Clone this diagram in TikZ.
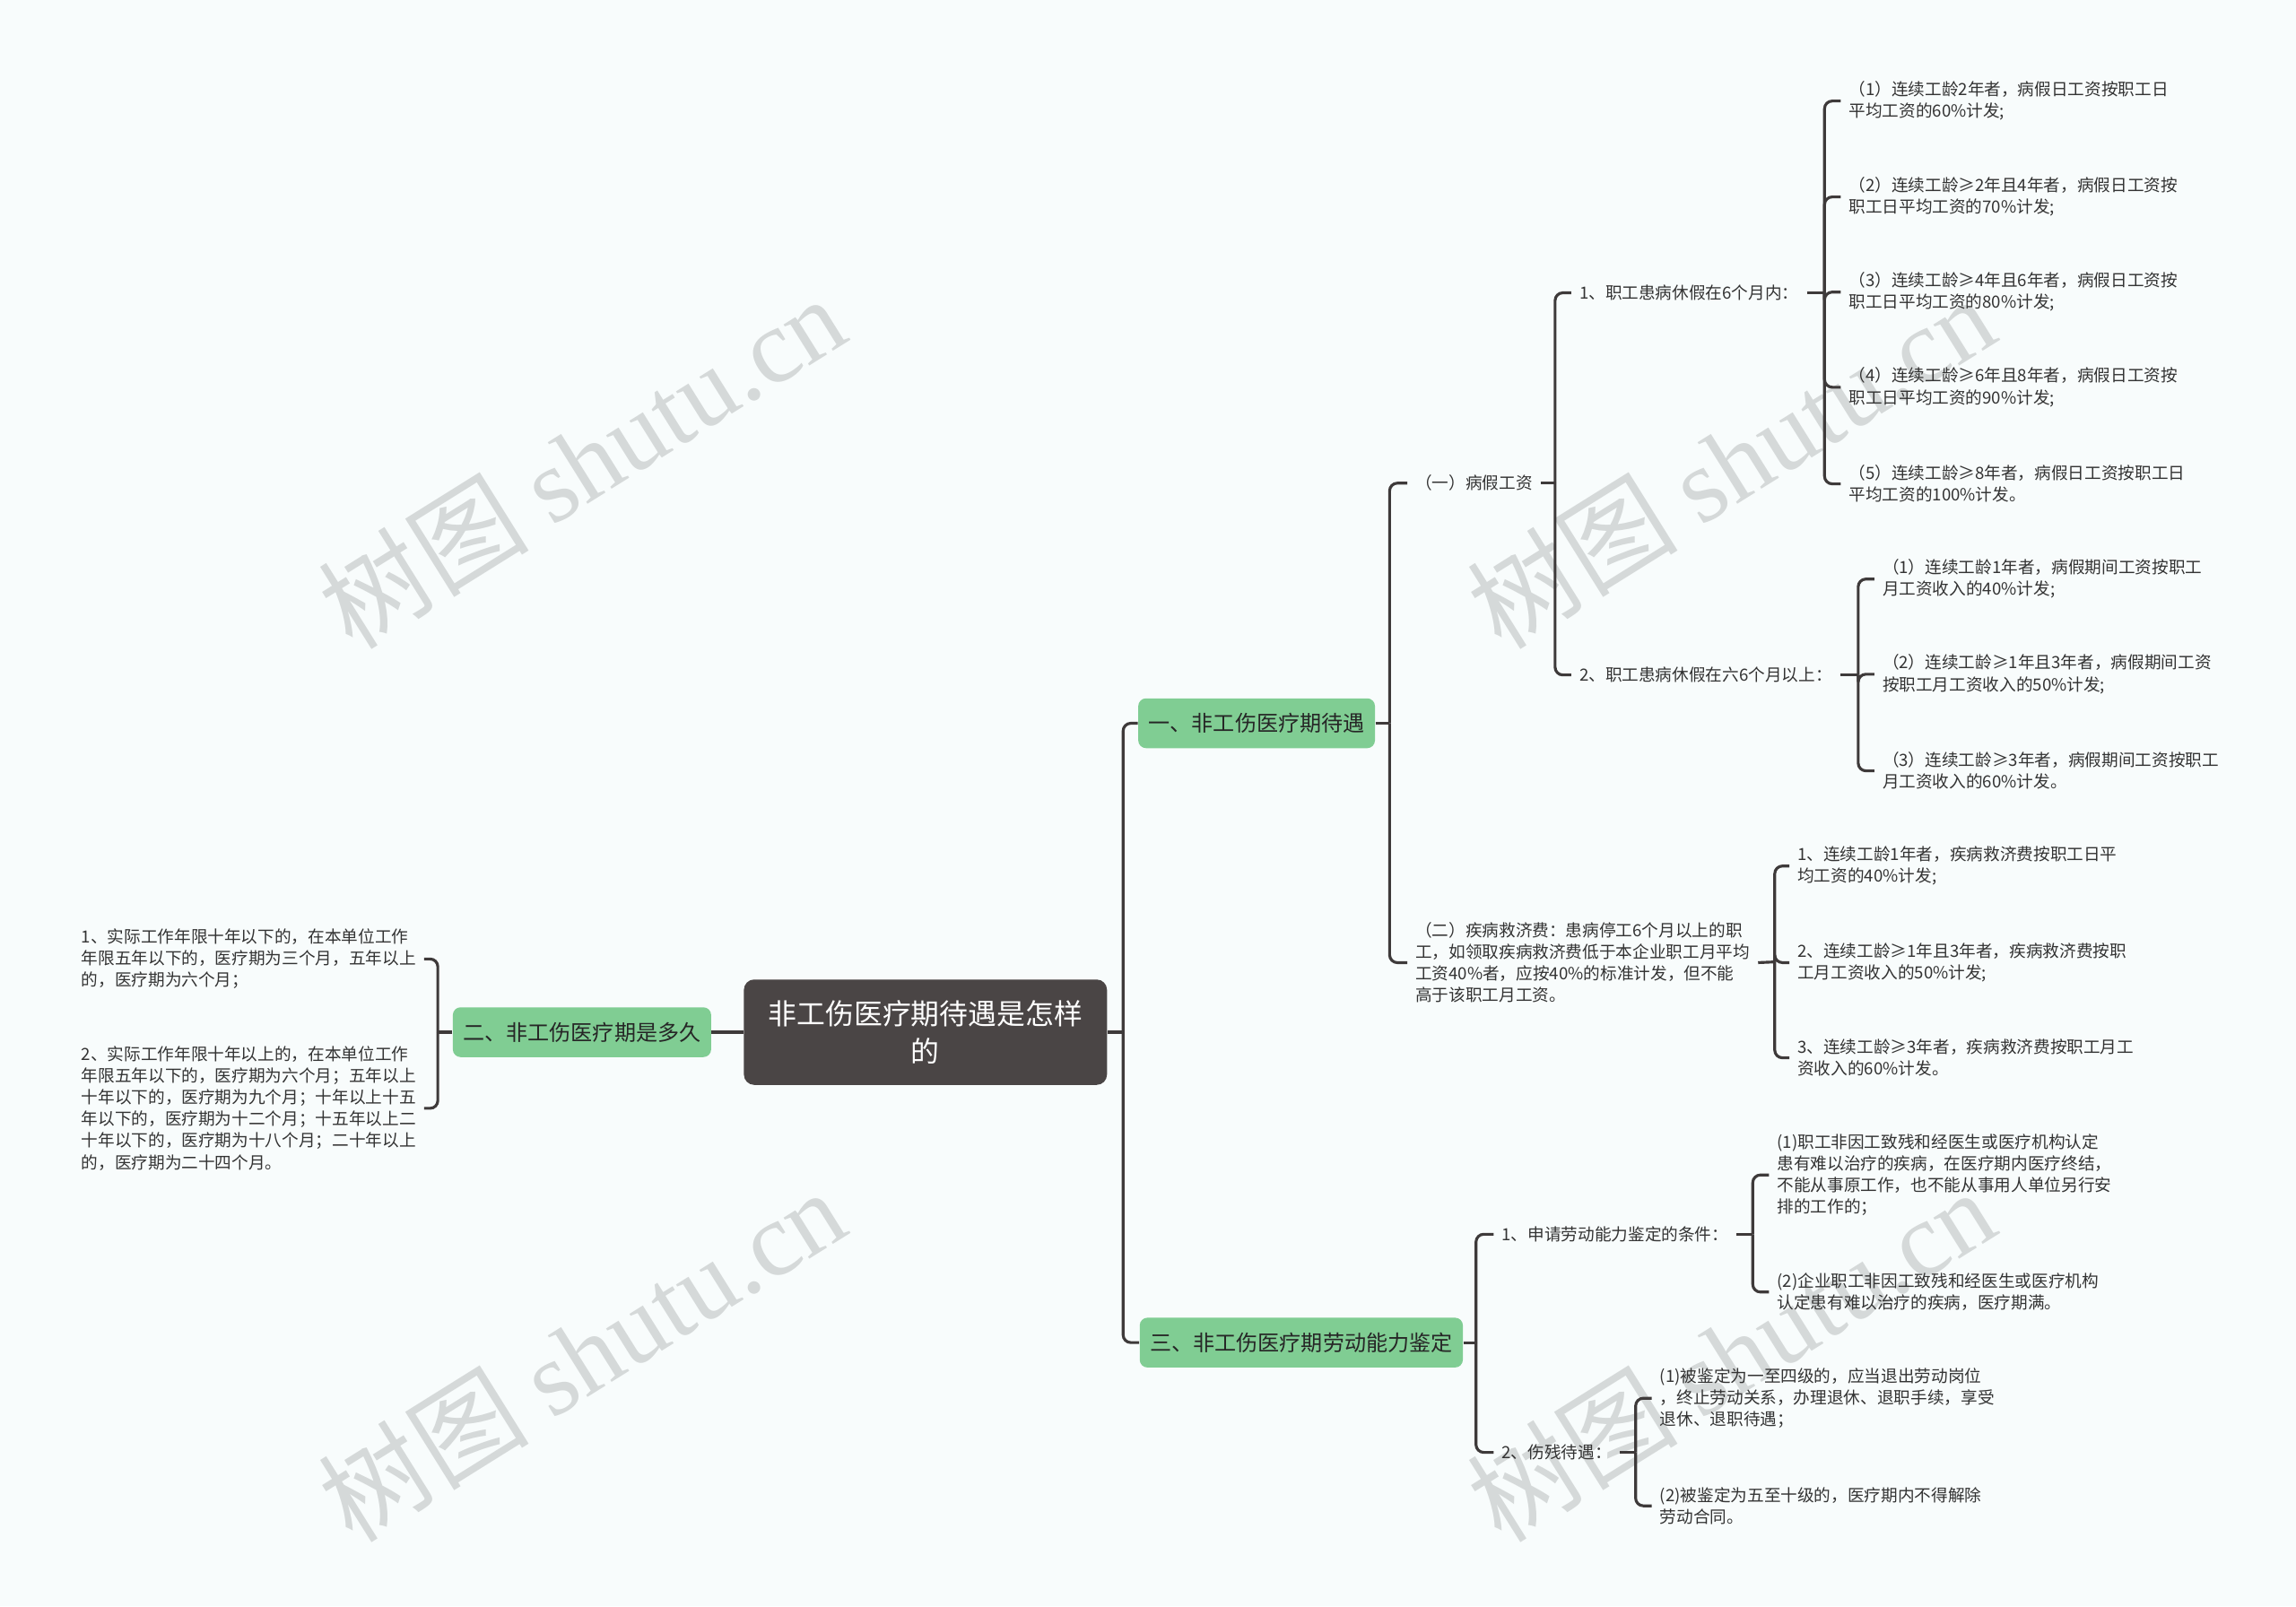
\documentclass[tikz,border=0pt]{standalone}
\usepackage{fontspec}
\setmainfont{Noto Sans CJK SC}
\newfontfamily\wmfont{Liberation Serif}
\definecolor{bgcol}{HTML}{F8FCFC}
\definecolor{linecol}{HTML}{3E3A3A}
\definecolor{rootcol}{HTML}{4A4545}
\definecolor{greencol}{HTML}{80CD93}
\definecolor{textcol}{HTML}{333333}
\definecolor{wmcol}{HTML}{D5D9D9}

\begin{document}
\begin{tikzpicture}[x=0.02cm,y=-0.02cm,
  link/.style={draw=linecol,line width=1.1pt,rounded corners=3pt},
  leaf/.style={anchor=west,align=left,inner xsep=3pt,inner ysep=1pt,text=textcol,
    font=\fontsize{6.5}{8.4}\selectfont},
  topic/.style={fill=greencol,rounded corners=3pt,inner xsep=4pt,minimum height=0.68cm,
    text=black!85,font=\fontsize{8.4}{10}\selectfont},
  wmtext/.style={text=wmcol,rotate=32,font=\fontsize{41}{46}\selectfont}]

  % canvas
  \useasboundingbox (0,0) rectangle (1568,1097);
  \fill[bgcol] (0,0) rectangle (1568,1097);

  % watermarks
  \foreach \wx/\wy [count=\i] in {397/315,1182/315,397/925,1182/925}{
    \node[wmtext] (wm\i) at (\wx,\wy) {树图 {\wmfont shutu.cn}};
  }

  % root and main topics
  \node[fill=rootcol,rounded corners=4pt,text=white,align=center,
    minimum width=4.96cm,minimum height=1.44cm,
    font=\fontsize{11.1}{14.7}\selectfont] (root) at (632,705)
    {非工伤医疗期待遇是怎样\\的};
  \node[topic,anchor=west] (t1) at (777,494) {一、非工伤医疗期待遇};
  \node[topic,anchor=east] (t2) at (486,705) {二、非工伤医疗期是多久};
  \node[topic,anchor=west] (t3) at (778,917) {三、非工伤医疗期劳动能力鉴定};

  % junctions
  \coordinate (j0) at (767,705);
  \coordinate (j1) at (949,494);
  \coordinate (j11) at (1062,330);
  \coordinate (j111) at (1246,200);
  \coordinate (j112) at (1269,461);
  \coordinate (j12) at (1212,657);
  \coordinate (j2) at (299,705);
  \coordinate (j3) at (1008,917);
  \coordinate (j31) at (1197,843);
  \coordinate (j32) at (1117,992);

  % branch one
  \node[leaf] (n1) at (961,330) {（一）病假工资};
  \node[leaf] (n11) at (1073,200) {1、职工患病休假在6个月内：};
  \node[leaf] (n12) at (1073,461) {2、职工患病休假在六6个月以上：};
  \node[leaf] (a1) at (1257,69) {（1）连续工龄2年者，病假日工资按职工日\\平均工资的60\%计发;};
  \node[leaf] (a2) at (1257,134.5) {（2）连续工龄≥2年且4年者，病假日工资按\\职工日平均工资的70\%计发;};
  \node[leaf] (a3) at (1257,199.5) {（3）连续工龄≥4年且6年者，病假日工资按\\职工日平均工资的80\%计发;};
  \node[leaf] (a4) at (1257,264.5) {（4）连续工龄≥6年且8年者，病假日工资按\\职工日平均工资的90\%计发;};
  \node[leaf] (a5) at (1257,330.5) {（5）连续工龄≥8年者，病假日工资按职工日\\平均工资的100\%计发。};
  \node[leaf] (b1) at (1280,395.5) {（1）连续工龄1年者，病假期间工资按职工\\月工资收入的40\%计发;};
  \node[leaf] (b2) at (1280,460.5) {（2）连续工龄≥1年且3年者，病假期间工资\\按职工月工资收入的50\%计发;};
  \node[leaf] (b3) at (1280,526.5) {（3）连续工龄≥3年者，病假期间工资按职工\\月工资收入的60\%计发。};
  \node[leaf] (n2) at (961,657.5) {（二）疾病救济费：患病停工6个月以上的职\\工，如领取疾病救济费低于本企业职工月平均\\工资40\%者，应按40\%的标准计发，但不能\\高于该职工月工资。};
  \node[leaf] (c1) at (1222,591.5) {1、连续工龄1年者，疾病救济费按职工日平\\均工资的40\%计发;};
  \node[leaf] (c2) at (1222,657.5) {2、连续工龄≥1年且3年者，疾病救济费按职\\工月工资收入的50\%计发;};
  \node[leaf] (c3) at (1222,722.5) {3、连续工龄≥3年者，疾病救济费按职工月工\\资收入的60\%计发。};

  % branch two
  \node[leaf] (l1) at (50,655) {1、实际工作年限十年以下的，在本单位工作\\年限五年以下的，医疗期为三个月，五年以上\\的，医疗期为六个月；};
  \node[leaf] (l2) at (50,757) {2、实际工作年限十年以上的，在本单位工作\\年限五年以下的，医疗期为六个月；五年以上\\十年以下的，医疗期为九个月；十年以上十五\\年以下的，医疗期为十二个月；十五年以上二\\十年以下的，医疗期为十八个月；二十年以上\\的，医疗期为二十四个月。};

  % branch three
  \node[leaf] (n31) at (1020,843) {1、申请劳动能力鉴定的条件：};
  \node[leaf] (n32) at (1020,992) {2、伤残待遇：};
  \node[leaf] (d1) at (1208,802.5) {(1)职工非因工致残和经医生或医疗机构认定\\患有难以治疗的疾病，在医疗期内医疗终结，\\不能从事原工作，也不能从事用人单位另行安\\排的工作的；};
  \node[leaf] (d2) at (1208,882.5) {(2)企业职工非因工致残和经医生或医疗机构\\认定患有难以治疗的疾病，医疗期满。};
  \node[leaf] (e1) at (1128,955) {(1)被鉴定为一至四级的，应当退出劳动岗位\\，终止劳动关系，办理退休、退职手续，享受\\退休、退职待遇；};
  \node[leaf] (e2) at (1128,1028.5) {(2)被鉴定为五至十级的，医疗期内不得解除\\劳动合同。};

  % connectors
  \draw[link] (root.east) -- (j0);
  \foreach \c in {t1,t3} \draw[link] (j0) |- (\c.west);
  \draw[link] (root.west) -- (t2.east);
  \draw[link] (t2.west) -- (j2);
  \foreach \c in {l1,l2} \draw[link] (j2) |- (\c.east);

  \draw[link] (t1.east) -- (j1);
  \foreach \c in {n1,n2} \draw[link] (j1) |- (\c.west);
  \draw[link] (n1.east) -- (j11);
  \foreach \c in {n11,n12} \draw[link] (j11) |- (\c.west);
  \draw[link] (n11.east) -- (j111);
  \foreach \c in {a1,a2,a3,a4,a5} \draw[link] (j111) |- (\c.west);
  \draw[link] (n12.east) -- (j112);
  \foreach \c in {b1,b2,b3} \draw[link] (j112) |- (\c.west);
  \draw[link] (n2.east) -- (j12);
  \foreach \c in {c1,c2,c3} \draw[link] (j12) |- (\c.west);

  \draw[link] (t3.east) -- (j3);
  \foreach \c in {n31,n32} \draw[link] (j3) |- (\c.west);
  \draw[link] (n31.east) -- (j31);
  \foreach \c in {d1,d2} \draw[link] (j31) |- (\c.west);
  \draw[link] (n32.east) -- (j32);
  \foreach \c in {e1,e2} \draw[link] (j32) |- (\c.west);
\end{tikzpicture}
\end{document}
